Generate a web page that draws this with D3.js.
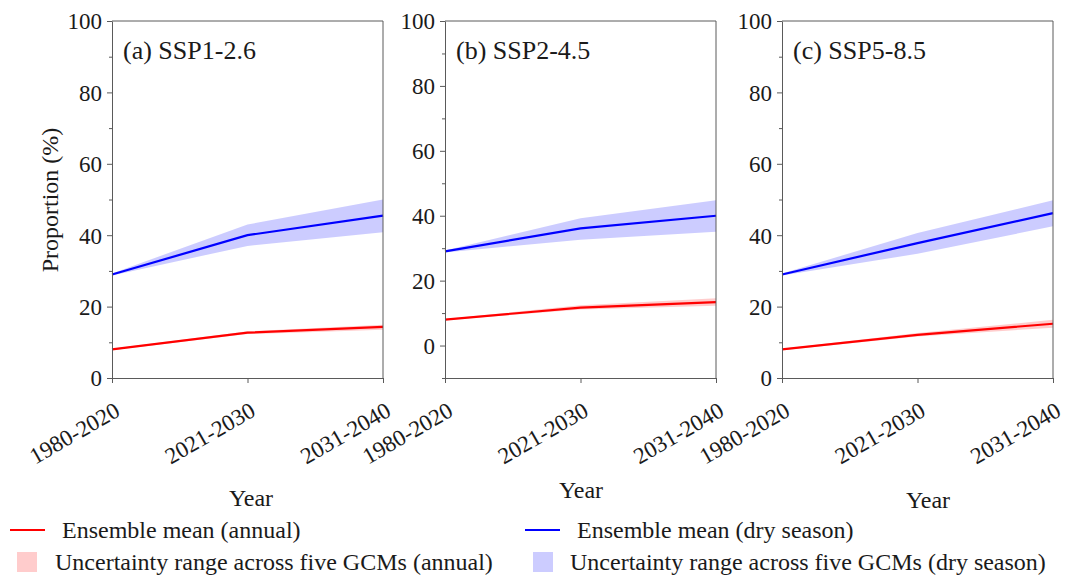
<!DOCTYPE html>
<html>
<head>
<meta charset="utf-8">
<script src="https://cdn.jsdelivr.net/npm/d3@7"></script>
<style>
  body { margin: 0; background: #fff; }
  text { font-family: "Liberation Serif", "Times New Roman", serif; fill: #1a1a1a; }
  .axis path, .axis line { stroke: #5a5a5a; }
</style>
</head>
<body>
<div id="chart"></div>
<script>
// categories on the x axis
var periods = ["1980-2020", "2021-2030", "2031-2040"];
var panelTitles = ["(a) SSP1-2.6", "(b) SSP2-4.5", "(c) SSP5-8.5"];

// ensemble mean, annual (per scenario)
var annualMean = [[8.0, 12.7, 14.3], [8.0, 11.7, 13.4], [8.0, 12.1, 15.2]];
var annualLow  = [[7.8, 12.3, 13.5], [7.8, 11.1, 12.3], [7.8, 11.6, 14.1]];
var annualHigh = [[8.2, 13.1, 14.9], [8.2, 12.4, 14.6], [8.2, 12.6, 16.3]];

// ensemble mean, dry season (per scenario)
var dryMean = [[29.0, 40.0, 45.5], [29.0, 36.1, 40.0], [29.0, 37.8, 46.2]];
var dryLow  = [[28.7, 37.0, 40.8], [28.7, 32.6, 35.1], [28.7, 34.8, 42.5]];
var dryHigh = [[29.3, 43.0, 50.0], [29.3, 39.2, 44.8], [29.3, 40.6, 49.8]];

var yDomains = [[0, 100], [-10, 100], [0, 100]];
var majorTicks = [0, 20, 40, 60, 80, 100];
var minorTicks = [[10, 30, 50, 70, 90], [-10, 10, 30, 50, 70, 90], [10, 30, 50, 70, 90]];

var legendLabels = ["Ensemble mean (annual)", "Ensemble mean (dry season)",
  "Uncertainty range across five GCMs (annual)", "Uncertainty range across five GCMs (dry season)"];

var W = 1074, H = 576;
var plotTop = 21, plotBottom = 378;
var panelX = [[112, 383], [445, 716], [782, 1053]];
var yearPos = [[251, 506], [581, 498], [928, 508]];
var serif = "'Liberation Serif', 'Times New Roman', serif";

var red = "#ff0000", blue = "#0000ff";
var redFill = "rgba(255,0,0,0.2)", blueFill = "rgba(0,0,255,0.2)";

var svg = d3.select("#chart").append("svg")
  .attr("width", W).attr("height", H);

panelTitles.forEach(function(title, i) {
  var x = d3.scalePoint().domain(periods).range(panelX[i]).padding(0);
  var y = d3.scaleLinear().domain(yDomains[i]).range([plotBottom, plotTop]);
  var g = svg.append("g");

  var band = d3.area()
    .x(function(d) { return x(d.p); })
    .y0(function(d) { return y(d.lo); })
    .y1(function(d) { return y(d.hi); });
  var line = d3.line()
    .x(function(d) { return x(d.p); })
    .y(function(d) { return y(d.v); });

  var dry = periods.map(function(p, k) { return {p: p, v: dryMean[i][k], lo: dryLow[i][k], hi: dryHigh[i][k]}; });
  var ann = periods.map(function(p, k) { return {p: p, v: annualMean[i][k], lo: annualLow[i][k], hi: annualHigh[i][k]}; });

  g.append("path").datum(dry).attr("d", band).attr("fill", blueFill);
  g.append("path").datum(ann).attr("d", band).attr("fill", redFill);
  g.append("path").datum(dry).attr("d", line).attr("fill", "none").attr("stroke", blue).attr("stroke-width", 2.2);
  g.append("path").datum(ann).attr("d", line).attr("fill", "none").attr("stroke", red).attr("stroke-width", 2.2);

  // frame top and right
  g.append("path")
    .attr("d", "M" + panelX[i][0] + "," + plotTop + "H" + panelX[i][1] + "V" + plotBottom)
    .attr("fill", "none").attr("stroke", "#5a5a5a").attr("stroke-width", 1);

  // y minor ticks
  g.append("g").attr("class", "axis")
    .attr("transform", "translate(" + panelX[i][0] + ",0)")
    .call(d3.axisLeft(y).tickValues(minorTicks[i]).tickSize(3).tickFormat(""))
    .call(function(a) { a.select(".domain").remove(); });

  // y axis
  g.append("g").attr("class", "axis")
    .attr("transform", "translate(" + panelX[i][0] + ",0)")
    .call(d3.axisLeft(y).tickValues(majorTicks).tickSize(5).tickSizeOuter(0).tickPadding(5))
    .attr("font-family", serif).attr("font-size", 23)
    .call(function(a) {
      a.selectAll("text").style("font-family", serif).style("font-size", "23px").attr("dy", "0.34em");
    });

  // x axis
  g.append("g").attr("class", "axis")
    .attr("transform", "translate(0," + plotBottom + ")")
    .call(d3.axisBottom(x).tickSize(5).tickSizeOuter(0))
    .attr("font-family", serif).attr("font-size", 23)
    .call(function(a) {
      a.selectAll("text")
        .style("font-family", serif).style("font-size", "23px")
        .attr("text-anchor", "end")
        .attr("dy", null).attr("y", null)
        .attr("transform", "translate(9,37) rotate(-30)");
    });

  g.append("text").attr("x", panelX[i][0] + 11).attr("y", 59)
    .style("font-size", "26px").text(title);

  g.append("text").attr("x", yearPos[i][0]).attr("y", yearPos[i][1])
    .attr("text-anchor", "middle").style("font-size", "24px").text("Year");
});

svg.append("text")
  .attr("transform", "translate(58,200) rotate(-90)")
  .attr("text-anchor", "middle").style("font-size", "24px")
  .text("Proportion (%)");

// legend
var lg = svg.append("g").style("font-size", "24px");
lg.append("line").attr("x1", 10).attr("x2", 45).attr("y1", 530).attr("y2", 530).attr("stroke", red).attr("stroke-width", 2);
lg.append("text").attr("x", 62).attr("y", 538).text(legendLabels[0]);
lg.append("line").attr("x1", 525).attr("x2", 560).attr("y1", 530).attr("y2", 530).attr("stroke", blue).attr("stroke-width", 2);
lg.append("text").attr("x", 577).attr("y", 538).text(legendLabels[1]);
lg.append("rect").attr("x", 17).attr("y", 552).attr("width", 20).attr("height", 20).attr("fill", redFill);
lg.append("text").attr("x", 55).attr("y", 570).text(legendLabels[2]);
lg.append("rect").attr("x", 533).attr("y", 552).attr("width", 20).attr("height", 20).attr("fill", blueFill);
lg.append("text").attr("x", 570).attr("y", 570).text(legendLabels[3]);
</script>
</body>
</html>
